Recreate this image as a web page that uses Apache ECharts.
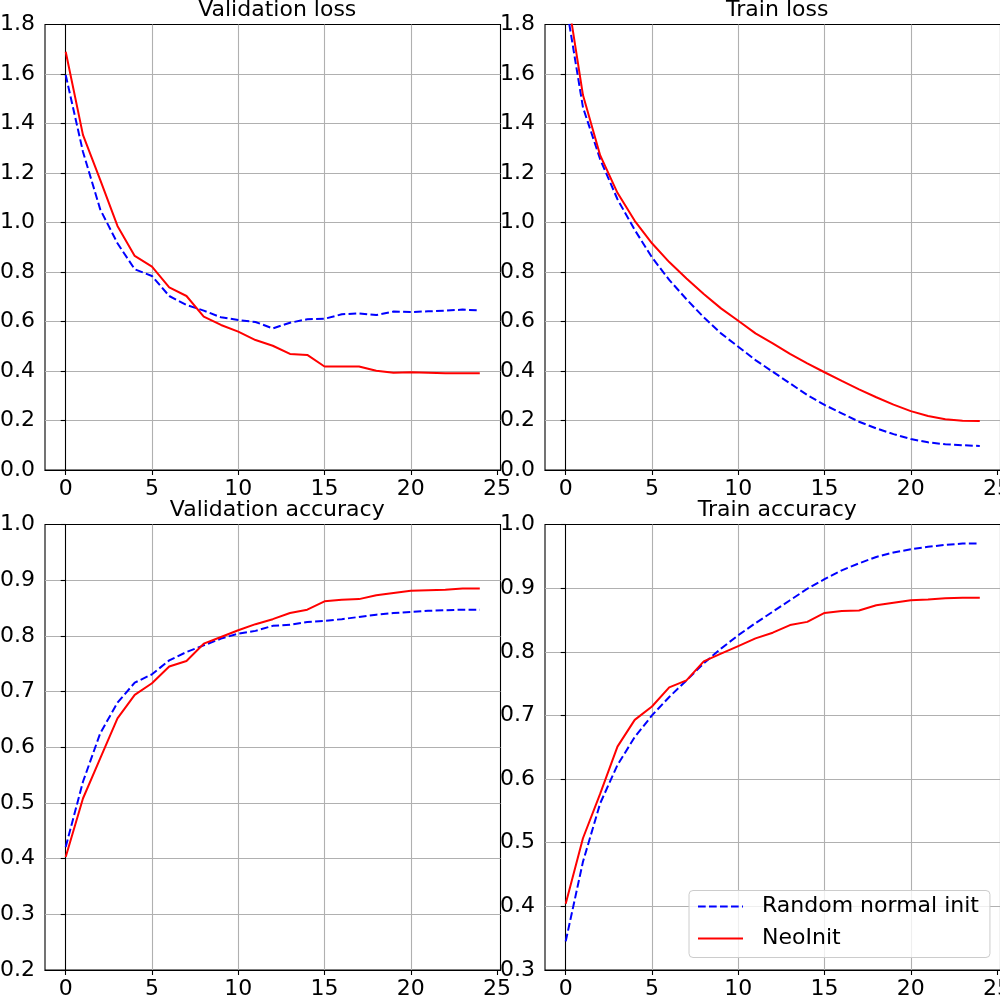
<!DOCTYPE html>
<html>
<head>
<meta charset="utf-8">
<script src="https://cdn.jsdelivr.net/npm/echarts@6/dist/echarts.min.js"></script>
<style>
  html, body { margin: 0; padding: 0; background: #fff; }
  #main { width: 1000px; height: 1000px; }
</style>
</head>
<body>
<div id="main"></div>
<script type="text/javascript">
    // 数据
    var epochs = [0, 1, 2, 3, 4, 5, 6, 7, 8, 9, 10, 11, 12, 13, 14, 15, 16, 17, 18, 19, 20, 21, 22, 23, 24];
    var xTicks = [0, 5, 10, 15, 20, 25];
    var seriesNames = ['Random normal init', 'NeoInit'];
    var titles = ['Validation loss', 'Train loss', 'Validation accuracy', 'Train accuracy'];

    var valLossRandom = [1.596, 1.286, 1.053, 0.916, 0.811, 0.784, 0.703, 0.667, 0.644, 0.617, 0.606, 0.598, 0.572,
        0.595, 0.609, 0.611, 0.629, 0.633, 0.626, 0.640, 0.638, 0.641, 0.644, 0.648, 0.645];
    var valLossNeo = [1.690, 1.354, 1.172, 0.986, 0.865, 0.822, 0.738, 0.703, 0.620, 0.586, 0.559, 0.525, 0.502,
        0.469, 0.465, 0.418, 0.418, 0.418, 0.401, 0.393, 0.395, 0.393, 0.391, 0.391, 0.391];
    var trainLossRandom = [1.89, 1.465, 1.255, 1.094, 0.970, 0.859, 0.768, 0.690, 0.617, 0.552, 0.498, 0.444, 0.397,
        0.350, 0.303, 0.263, 0.229, 0.195, 0.168, 0.145, 0.125, 0.112, 0.104, 0.100, 0.097];
    var trainLossNeo = [1.96, 1.515, 1.271, 1.120, 1.007, 0.916, 0.840, 0.774, 0.711, 0.653, 0.603, 0.552, 0.512,
        0.469, 0.431, 0.395, 0.360, 0.326, 0.294, 0.264, 0.238, 0.218, 0.205, 0.199, 0.198];
    var valAccRandom = [0.421, 0.538, 0.625, 0.680, 0.716, 0.731, 0.756, 0.771, 0.783, 0.795, 0.804, 0.809, 0.818,
        0.820, 0.825, 0.827, 0.830, 0.834, 0.838, 0.841, 0.843, 0.845, 0.846, 0.847, 0.847];
    var valAccNeo = [0.403, 0.508, 0.580, 0.652, 0.694, 0.715, 0.745, 0.755, 0.786, 0.798, 0.810, 0.821, 0.830,
        0.841, 0.847, 0.862, 0.865, 0.866, 0.873, 0.877, 0.881, 0.882, 0.883, 0.885, 0.885];
    var trainAccRandom = [0.345, 0.470, 0.562, 0.622, 0.666, 0.700, 0.729, 0.755, 0.782, 0.805, 0.826, 0.845, 0.863,
        0.881, 0.899, 0.914, 0.928, 0.939, 0.949, 0.956, 0.961, 0.965, 0.968, 0.970, 0.970];
    var trainAccNeo = [0.404, 0.507, 0.577, 0.651, 0.693, 0.714, 0.744, 0.755, 0.785, 0.797, 0.809, 0.821, 0.830,
        0.842, 0.847, 0.861, 0.864, 0.865, 0.873, 0.877, 0.881, 0.882, 0.884, 0.885, 0.885];

    var panels = [
        {random: valLossRandom, neo: valLossNeo, ymin: 0, ymax: 1.8, step: 0.2},
        {random: trainLossRandom, neo: trainLossNeo, ymin: 0, ymax: 1.8, step: 0.2},
        {random: valAccRandom, neo: valAccNeo, ymin: 0.2, ymax: 1.0, step: 0.1},
        {random: trainAccRandom, neo: trainAccNeo, ymin: 0.3, ymax: 1.0, step: 0.1}
    ];

    var FONT = 'DejaVu Sans';
    var gridPos = [[45, 24.5], [545, 24.5], [45, 524.5], [545, 524.5]];
    var plotW = 455.5, plotH = 445.5;

    function pairs(arr) {
        return epochs.map(function (e, i) { return [e, arr[i]]; });
    }

    var grid = [], xAxis = [], yAxis = [], series = [], title = [];
    panels.forEach(function (p, k) {
        grid.push({
            left: gridPos[k][0], top: gridPos[k][1], width: plotW, height: plotH,
            containLabel: false, outerBoundsMode: 'none',
            show: true, borderColor: '#000', borderWidth: 1.1, backgroundColor: '#fff'
        });
        title.push({
            text: titles[k],
            left: gridPos[k][0] + plotW / 2 - 0.5,
            top: gridPos[k][1] - 30,
            textAlign: 'center',
            textStyle: {fontFamily: FONT, fontSize: 22, fontWeight: 'normal', color: '#000'}
        });
        xAxis.push({
            type: 'value', gridIndex: k, min: -1.2, max: 25.2,
            axisLine: {show: true, onZero: false, lineStyle: {color: '#000', width: 1.1}},
            axisTick: {show: true, length: 5, customValues: xTicks, lineStyle: {color: '#000', width: 1.1}},
            axisLabel: {customValues: xTicks, margin: 8, color: '#000', fontFamily: FONT, fontSize: 22},
            splitLine: {show: true, showMinLine: false, showMaxLine: false, lineStyle: {color: '#b0b0b0', width: 1.1}}
        });
        yAxis.push({
            type: 'value', gridIndex: k, min: p.ymin, max: p.ymax, interval: p.step,
            axisLine: {show: true, lineStyle: {color: '#000', width: 1.1}},
            axisTick: {show: true, length: 5, lineStyle: {color: '#000', width: 1.1}},
            axisLabel: {
                margin: 10, color: '#000', fontFamily: FONT, fontSize: 22,
                formatter: function (v) { return v.toFixed(1); }
            },
            splitLine: {show: true, showMinLine: false, showMaxLine: false, lineStyle: {color: '#b0b0b0', width: 1.1}}
        });
        series.push({
            name: seriesNames[0], type: 'line', xAxisIndex: k, yAxisIndex: k,
            data: pairs(p.random), symbol: 'none', clip: true,
            lineStyle: {color: '#0000ff', width: 2, type: [7.7, 3.3]},
            itemStyle: {color: '#0000ff'}
        });
        series.push({
            name: seriesNames[1], type: 'line', xAxisIndex: k, yAxisIndex: k,
            data: pairs(p.neo), symbol: 'none', clip: true,
            lineStyle: {color: '#ff0000', width: 2},
            itemStyle: {color: '#ff0000'}
        });
    });

    var myChart = echarts.init(document.getElementById('main'));
    var option = {
        animation: false,
        title: title,
        grid: grid,
        xAxis: xAxis,
        yAxis: yAxis,
        legend: {
            data: seriesNames,
            orient: 'vertical',
            left: 689, top: 890.5,
            padding: [5, 11, 8, 8],
            itemWidth: 45, itemHeight: 12, itemGap: 10,
            itemStyle: {opacity: 0},
            backgroundColor: 'rgba(255,255,255,0.8)',
            borderColor: '#cccccc', borderWidth: 1, borderRadius: 4,
            textStyle: {fontFamily: FONT, fontSize: 22, color: '#000', padding: [0, 0, 0, 14]}
        },
        series: series
    };
    myChart.setOption(option);
</script>
</body>
</html>
